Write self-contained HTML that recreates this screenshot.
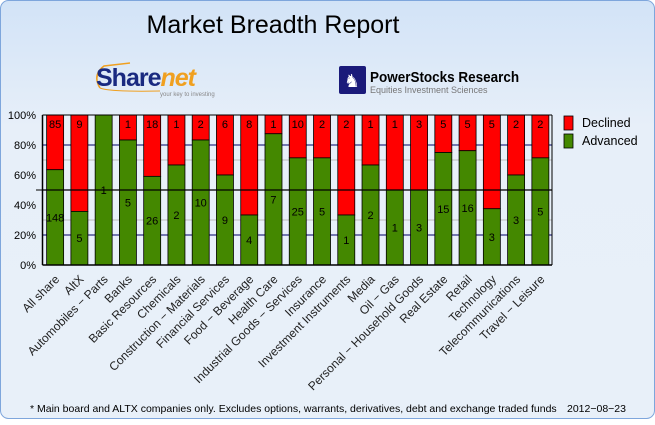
<!DOCTYPE html>
<html><head><style>
body{margin:0;width:655px;height:420px;overflow:hidden;font-family:"Liberation Sans",sans-serif}
</style></head><body>
<svg width="655" height="420" xmlns="http://www.w3.org/2000/svg" font-family="Liberation Sans, sans-serif">
<defs><linearGradient id="bg" x1="0" y1="0" x2="0" y2="1">
<stop offset="0" stop-color="#d2e3f7"/><stop offset="0.3" stop-color="#e7eff9"/><stop offset="1" stop-color="#e8f0f9"/></linearGradient></defs>
<rect x="0.5" y="0.5" width="654" height="418" rx="8" fill="url(#bg)" stroke="#7ea6dc"/>
<text x="273" y="33" font-size="25" text-anchor="middle" fill="#000">Market Breadth Report</text>
<path d="M100,88 Q92,75 104,66 L130,63" fill="none" stroke="#f0a020" stroke-width="1.5"/>
<path d="M100,88 Q110,92 160,91" fill="none" stroke="#f0a020" stroke-width="1"/>
<text x="96" y="86" font-size="25" font-weight="bold" fill="#1a2a80" letter-spacing="-1">Share<tspan fill="#f0a020" font-style="italic">net</tspan></text>
<text x="160" y="96" font-size="6" fill="#888">your key to investing</text>
<rect x="339" y="66" width="27" height="28" rx="2" fill="#1a1a7a"/>
<text x="352" y="87" font-size="18" fill="#fff" text-anchor="middle">♞</text>
<text x="370" y="82" font-size="15" font-weight="bold" fill="#000" transform="scale(0.9,1)" transform-origin="370 82">PowerStocks  Research</text>
<text x="370" y="93" font-size="9" fill="#777">Equities Investment Sciences</text>
<g id="chart"></g>
<rect x="564" y="116" width="9" height="14" fill="#ff0000" stroke="#000" stroke-width="0.8"/>
<rect x="564" y="134" width="9" height="14" fill="#448800" stroke="#000" stroke-width="0.8"/>
<text x="582" y="127" font-size="12.5">Declined</text>
<text x="582" y="145" font-size="12.5">Advanced</text>
<text x="30" y="412" font-size="10.5" fill="#000">* Main board and ALTX companies only. Excludes options, warrants, derivatives, debt and exchange traded funds</text>
<text x="567" y="412" font-size="10.5" fill="#000">2012−08−23</text>
</svg>
<script>
var d=[["All share",148,85],["AltX",5,9],["Automobiles - Parts",1,0],["Banks",5,1],["Basic Resources",26,18],["Chemicals",2,1],["Construction - Materials",10,2],["Financial Services",9,6],["Food - Beverage",4,8],["Health Care",7,1],["Industrial Goods - Services",25,10],["Insurance",5,2],["Investment Instruments",1,2],["Media",2,1],["Oil - Gas",1,1],["Personal - Household Goods",3,3],["Real Estate",15,5],["Retail",16,5],["Technology",3,5],["Telecommunications",3,2],["Travel - Leisure",5,2]];
var s='',L=42.5,R=552,T=115,B=265,H=150;
s+='<rect x="'+L+'" y="'+T+'" width="'+(R-L)+'" height="'+H+'" fill="#e8f0f9"/>';
[[145,"#000066"],[235,"#000066"],[160,"#bbb"],[220,"#bbb"]].forEach(function(g){s+='<line x1="'+L+'" x2="'+R+'" y1="'+g[0]+'" y2="'+g[0]+'" stroke="'+g[1]+'"/>';});
["0%","20%","40%","60%","80%","100%"].forEach(function(t,i){var y=B-i*30;s+='<text x="36" y="'+(y+4)+'" font-size="11" text-anchor="end">'+t+'</text>';});
var st=(R-L)/21;
d.forEach(function(r,i){var c=L+st*(i+0.5)+0.5,x=c-8.5,tot=r[1]+r[2],ah=H*r[1]/tot,ay=B-ah;
s+='<rect x="'+x+'" y="'+T+'" width="17" height="'+(ay-T)+'" fill="#ff0000" stroke="#000" stroke-width="0.8"/>';
s+='<rect x="'+x+'" y="'+ay+'" width="17" height="'+ah+'" fill="#448800" stroke="#000" stroke-width="0.8"/>';
if(r[2]>0)s+='<text x="'+c+'" y="128" font-size="11" text-anchor="middle">'+r[2]+'</text>';
s+='<text x="'+c+'" y="'+(ay+ah/2+4)+'" font-size="11" text-anchor="middle">'+r[1]+'</text>';
s+='<text x="'+(c+5)+'" y="280" font-size="12" fill="#222" text-anchor="end" transform="rotate(-45 '+(c+5)+' 280)">'+r[0].replace(/-/g,'−')+'</text>';});
s+='<line x1="'+L+'" x2="'+R+'" y1="190" y2="190" stroke="#000" stroke-width="1.2"/>';
s+='<line x1="'+L+'" x2="'+R+'" y1="'+T+'" y2="'+T+'" stroke="#000"/>';
s+='<line x1="'+R+'" x2="'+R+'" y1="'+T+'" y2="'+B+'" stroke="#000"/>';
s+='<line x1="'+L+'" x2="'+L+'" y1="'+T+'" y2="'+B+'" stroke="#000" stroke-width="1.5"/>';
s+='<line x1="'+L+'" x2="'+R+'" y1="'+B+'" y2="'+B+'" stroke="#000" stroke-width="1.5"/>';
s+='<line x1="36" x2="'+L+'" y1="190" y2="190" stroke="#000"/>';
document.getElementById('chart').innerHTML=s;
</script>
</body></html>
